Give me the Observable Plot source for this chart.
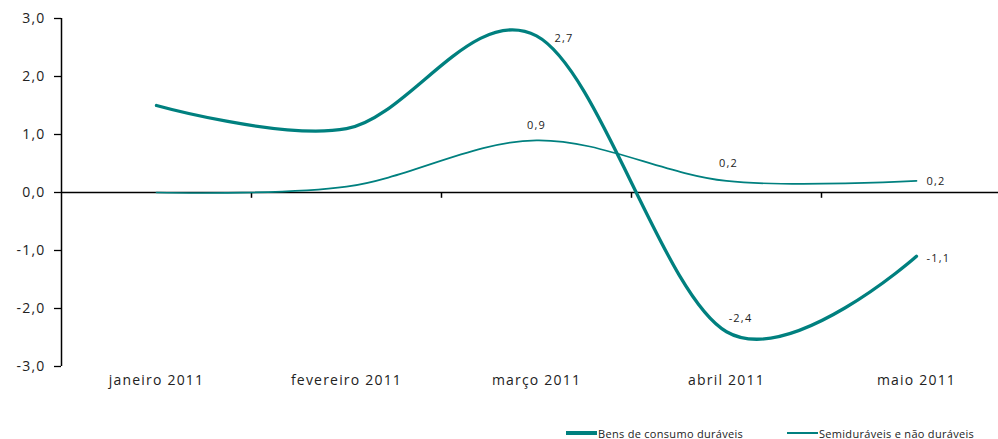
<!DOCTYPE html>
<html><head><meta charset="utf-8">
<script src="https://cdn.jsdelivr.net/npm/d3@7"></script>
<script src="https://cdn.jsdelivr.net/npm/@observablehq/plot@0.6"></script>
<style>
html,body{margin:0;padding:0;background:#fff;}
body{font-family:"Open Sans",sans-serif;width:998px;height:439px;overflow:hidden;}
#legend{position:relative;height:29px;font-size:11px;color:#222;letter-spacing:0.3px;}
.item{position:absolute;top:16px;display:flex;align-items:center;height:14px;}
.sw{width:31px;background:#00807f;margin-right:1px;}
</style></head><body>
<div id="chart"></div>
<div id="legend"></div>
<script>
const categories = ["janeiro 2011","fevereiro 2011","março 2011","abril 2011","maio 2011"];
const duraveis = [1.5, 1.1, 2.7, -2.4, -1.1];
const semiduraveis = [0.0, 0.1, 0.9, 0.2, 0.2];
const seriesNames = ["Bens de consumo duráveis","Semiduráveis e não duráveis"];
const yTicks = [-3, -2, -1, 0, 1, 2, 3];

const teal = "#00807f";
const fmt = v => v.toFixed(1).replace(".", ",");
const rows1 = categories.map((c, i) => ({i, cat: c, serie: seriesNames[0], v: duraveis[i]}));
const rows2 = categories.map((c, i) => ({i, cat: c, serie: seriesNames[1], v: semiduraveis[i]}));
const xDomain = [-0.5, categories.length - 0.5];
const boundaries = d3.range(1, categories.length).map(i => i - 0.5);
const last = categories.length - 1;

const lbl = {x: "i", y: "v", text: d => fmt(d.v), fontSize: 11, fill: "#222"};

const chart = Plot.plot({
  width: 998,
  height: 410,
  marginLeft: 61,
  marginRight: 0,
  marginTop: 18,
  marginBottom: 44,
  style: {fontFamily: "Open Sans, sans-serif", fontSize: "14px", letterSpacing: "1.2px", color: "#222", background: "#fff"},
  x: {domain: xDomain, range: [61, 61 + 190 * categories.length], label: null},
  y: {domain: [yTicks[0], yTicks[yTicks.length - 1]], label: null},
  marks: [
    Plot.axisY({ticks: yTicks, tickFormat: fmt, tickSize: 7, tickPadding: 9, fontSize: 14, stroke: "#000", strokeWidth: 1.3, label: null}),
    Plot.axisX({ticks: d3.range(categories.length), tickFormat: i => categories[i], tickSize: 0, tickPadding: 9, fontSize: 14, label: null}),
    Plot.ruleX([xDomain[0]], {y1: yTicks[0], y2: yTicks[yTicks.length - 1], stroke: "#000", strokeWidth: 1.5}),
    Plot.ruleY([0], {stroke: "#000", strokeWidth: 1.5}),
    Plot.ruleX(boundaries, {y1: 0, y2: -0.1, stroke: "#000", strokeWidth: 1.5}),
    Plot.line(rows2, {x: "i", y: "v", curve: "cardinal", stroke: teal, strokeWidth: 1.7}),
    Plot.line(rows1, {x: "i", y: "v", curve: "cardinal", stroke: teal, strokeWidth: 3.3}),
    // data labels, series 1
    Plot.text(rows1.filter(d => d.i === 2), {...lbl, textAnchor: "start", dx: 18, dy: 3}),
    Plot.text(rows1.filter(d => d.i === 3), {...lbl, dx: 14, dy: -13}),
    Plot.text(rows1.filter(d => d.i === last), {...lbl, textAnchor: "start", dx: 10, dy: 2}),
    // data labels, series 2
    Plot.text(rows2.filter(d => d.i === 2), {...lbl, dy: -15}),
    Plot.text(rows2.filter(d => d.i === 3), {...lbl, dx: 2, dy: -17}),
    Plot.text(rows2.filter(d => d.i === last), {...lbl, textAnchor: "start", dx: 10, dy: 1})
  ]
});
document.getElementById("chart").appendChild(chart);

const legend = document.getElementById("legend");
const lefts = [566, 787];
const widths = [3.2, 1.7];
seriesNames.forEach((name, k) => {
  const it = document.createElement("div");
  it.className = "item";
  it.style.left = lefts[k] + "px";
  const sw = document.createElement("span");
  sw.className = "sw";
  sw.style.height = widths[k] + "px";
  const tx = document.createElement("span");
  tx.textContent = name;
  it.appendChild(sw); it.appendChild(tx);
  legend.appendChild(it);
});
</script>
</body></html>
